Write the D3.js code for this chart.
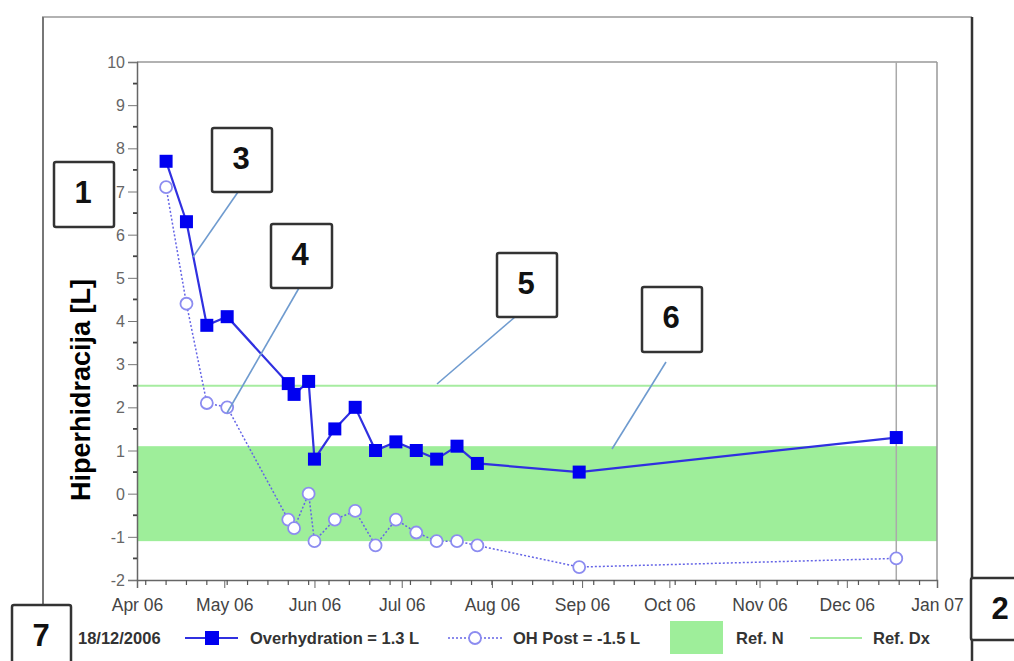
<!DOCTYPE html>
<html><head><meta charset="utf-8">
<script src="https://cdn.jsdelivr.net/npm/d3@7/dist/d3.min.js"></script>
<style>
html,body{margin:0;padding:0;background:#fff;}
svg{display:block;font-family:Arial,"Liberation Sans",sans-serif;}
</style></head>
<body>
<svg id="c" width="1014" height="661"></svg>
<script>
// ---- data ----
const dates = ["2006-04-11","2006-04-18","2006-04-25","2006-05-02","2006-05-23","2006-05-25","2006-05-30","2006-06-01","2006-06-08","2006-06-15","2006-06-22","2006-06-29","2006-07-06","2006-07-13","2006-07-20","2006-07-27","2006-08-31","2006-12-18"];
const overhydration = [7.7,6.3,3.9,4.1,2.55,2.3,2.6,0.8,1.5,2.0,1.0,1.2,1.0,0.8,1.1,0.7,0.5,1.3];
const ohPost = [7.1,4.4,2.1,2.0,-0.6,-0.8,0.0,-1.1,-0.6,-0.4,-1.2,-0.6,-0.9,-1.1,-1.1,-1.2,-1.7,-1.5];
const refN = [-1.1, 1.1];
const refDx = 2.5;
const yTicks = [-2,-1,0,1,2,3,4,5,6,7,8,9,10];
const monthLabels = ["Apr 06","May 06","Jun 06","Jul 06","Aug 06","Sep 06","Oct 06","Nov 06","Dec 06","Jan 07"];
const selectedDate = "2006-12-18";
const legendDate = "18/12/2006";
const legendItems = ["Overhydration = 1.3 L","OH Post = -1.5 L","Ref. N","Ref. Dx"];
const yTitle = "Hiperhidracija [L]";
const callouts = ["1","2","3","4","5","6","7"];

// ---- setup ----
const svg = d3.select("#c");
const parse = d3.timeParse("%Y-%m-%d");
const L = 137, R = 937, T = 62, B = 580;
const x = d3.scaleTime().domain([new Date(2006,3,1), new Date(2007,0,1)]).range([L, R]);
const y = d3.scaleLinear().domain([-2, 10]).range([B, T]);
const pts = dates.map((d,i)=>({d:parse(d), oh:overhydration[i], post:ohPost[i]}));

// outer frame
svg.append("line").attr("x1",42).attr("x2",972).attr("y1",17).attr("y2",17).attr("stroke","#999").attr("stroke-width",1.5);
svg.append("line").attr("x1",43).attr("x2",43).attr("y1",17).attr("y2",606).attr("stroke","#777").attr("stroke-width",2);
svg.append("line").attr("x1",972).attr("x2",972).attr("y1",17).attr("y2",661).attr("stroke","#333").attr("stroke-width",2.5);

// reference band & line
svg.append("rect").attr("x",L).attr("width",R-L).attr("y",y(refN[1])).attr("height",y(refN[0])-y(refN[1])).attr("fill","#9eee9a");
svg.append("line").attr("x1",L).attr("x2",R).attr("y1",y(refDx)).attr("y2",y(refDx)).attr("stroke","#a6eca0").attr("stroke-width",2);

// plot frame top/right
svg.append("line").attr("x1",L).attr("x2",R).attr("y1",T).attr("y2",T).attr("stroke","#999").attr("stroke-width",1.5);
svg.append("line").attr("x1",R).attr("x2",R).attr("y1",T).attr("y2",B).attr("stroke","#999").attr("stroke-width",1.5);
// selected date vertical line
svg.append("line").attr("x1",x(parse(selectedDate))).attr("x2",x(parse(selectedDate))).attr("y1",T).attr("y2",B).attr("stroke","#aaa").attr("stroke-width",1.5);

// y axis
const yAx = svg.append("g").attr("transform",`translate(${L},0)`)
  .call(d3.axisLeft(y).tickValues(yTicks).tickSize(9).tickFormat(d=>String(d)));
yAx.select(".domain").attr("stroke","#666").attr("stroke-width",1.5);
yAx.selectAll(".tick line").attr("stroke","#777");
yAx.selectAll("text").attr("fill","#666").attr("font-size",16).attr("x",-12).attr("dy","0.35em");
// minor y ticks
svg.append("g").selectAll("line").data(d3.range(-1.5,10,1)).join("line")
  .attr("x1",L-4).attr("x2",L).attr("y1",d=>y(d)).attr("y2",d=>y(d)).attr("stroke","#444").attr("stroke-width",1.8);

// x axis
const months = d3.timeMonth.range(new Date(2006,3,1), new Date(2007,0,2));
const xAx = svg.append("g").attr("transform",`translate(0,${B})`)
  .call(d3.axisBottom(x).tickValues(months).tickSize(8).tickFormat((d,i)=>monthLabels[i]));
xAx.select(".domain").attr("stroke","#666").attr("stroke-width",1.5);
xAx.selectAll(".tick line").attr("stroke","#666");
xAx.selectAll("text").attr("fill","#444").attr("font-size",17.5).attr("y",19);
// weekly minor ticks
const weeks = d3.timeDay.range(new Date(2006,3,4), new Date(2007,0,1), 7);
svg.append("g").selectAll("line").data(weeks).join("line")
  .attr("x1",d=>x(d)).attr("x2",d=>x(d)).attr("y1",B).attr("y2",B+5).attr("stroke","#555").attr("stroke-width",1.2);

// y title
svg.append("text").attr("transform","translate(90,390) rotate(-90)").attr("text-anchor","middle")
  .attr("font-size",27).attr("font-weight","bold").attr("fill","#000").text(yTitle);

// OH post series
const linePost = d3.line().x(d=>x(d.d)).y(d=>y(d.post));
svg.append("path").datum(pts).attr("d",linePost).attr("fill","none").attr("stroke","#6464e6").attr("stroke-width",1.5).attr("stroke-dasharray","2,2");
svg.append("g").selectAll("circle").data(pts).join("circle")
  .attr("cx",d=>x(d.d)).attr("cy",d=>y(d.post)).attr("r",6).attr("fill","#fff").attr("stroke","#8c8cf0").attr("stroke-width",1.8);

// Overhydration series
const lineOH = d3.line().x(d=>x(d.d)).y(d=>y(d.oh));
svg.append("path").datum(pts).attr("d",lineOH).attr("fill","none").attr("stroke","#3030e0").attr("stroke-width",2.2);
svg.append("g").selectAll("rect").data(pts).join("rect")
  .attr("x",d=>x(d.d)-6.5).attr("y",d=>y(d.oh)-6.5).attr("width",13).attr("height",13).attr("fill","#0000f0");

// callout leaders
const leaders = [[238,192,193,257],[299,288,227,413],[515,317,437,384],[666,362,612,449]];
svg.append("g").selectAll("line").data(leaders).join("line")
  .attr("x1",d=>d[0]).attr("y1",d=>d[1]).attr("x2",d=>d[2]).attr("y2",d=>d[3]).attr("stroke","#6f9bcf").attr("stroke-width",1.6);

// callout boxes
const boxes = [
  {t:callouts[0],x:54,y:162,w:60,h:65},
  {t:callouts[1],x:971,y:578,w:60,h:62},
  {t:callouts[2],x:212,y:128,w:60,h:64},
  {t:callouts[3],x:271,y:224,w:61,h:64},
  {t:callouts[4],x:497,y:253,w:60,h:64},
  {t:callouts[5],x:642,y:287,w:60,h:65},
  {t:callouts[6],x:12,y:605,w:59,h:70}
];
const bg = svg.append("g").selectAll("g").data(boxes).join("g");
bg.append("rect").attr("x",d=>d.x).attr("y",d=>d.y).attr("width",d=>d.w).attr("height",d=>d.h).attr("rx",2)
  .attr("fill","#fff").attr("stroke","#333").attr("stroke-width",2.5);
bg.append("text").attr("x",d=>d.x+29).attr("y",d=>d.y+30).attr("dy","0.36em").attr("text-anchor","middle")
  .attr("font-size",31).attr("font-weight","bold").attr("fill","#111").text(d=>d.t);

// legend
const lg = svg.append("g").attr("font-size",16.5).attr("font-weight","bold").attr("fill","#333");
const ly = 638;
lg.append("text").attr("x",78).attr("y",ly).attr("dy","0.35em").text(legendDate);
lg.append("line").attr("x1",185).attr("x2",238).attr("y1",ly).attr("y2",ly).attr("stroke","#3030e0").attr("stroke-width",2.2);
lg.append("rect").attr("x",205).attr("y",ly-7).attr("width",14).attr("height",14).attr("fill","#0000f0");
lg.append("text").attr("x",250).attr("y",ly).attr("dy","0.35em").text(legendItems[0]);
lg.append("line").attr("x1",448).attr("x2",502).attr("y1",ly).attr("y2",ly).attr("stroke","#6464e6").attr("stroke-width",1.5).attr("stroke-dasharray","2,2");
lg.append("circle").attr("cx",475).attr("cy",ly).attr("r",6).attr("fill","#fff").attr("stroke","#8c8cf0").attr("stroke-width",1.8);
lg.append("text").attr("x",513).attr("y",ly).attr("dy","0.35em").text(legendItems[1]);
lg.append("rect").attr("x",670).attr("y",621).attr("width",53).attr("height",33).attr("fill","#9eee9a");
lg.append("text").attr("x",736).attr("y",ly).attr("dy","0.35em").text(legendItems[2]);
lg.append("line").attr("x1",810).attr("x2",862).attr("y1",ly).attr("y2",ly).attr("stroke","#a6eca0").attr("stroke-width",2);
lg.append("text").attr("x",873).attr("y",ly).attr("dy","0.35em").text(legendItems[3]);
</script>
</body></html>
